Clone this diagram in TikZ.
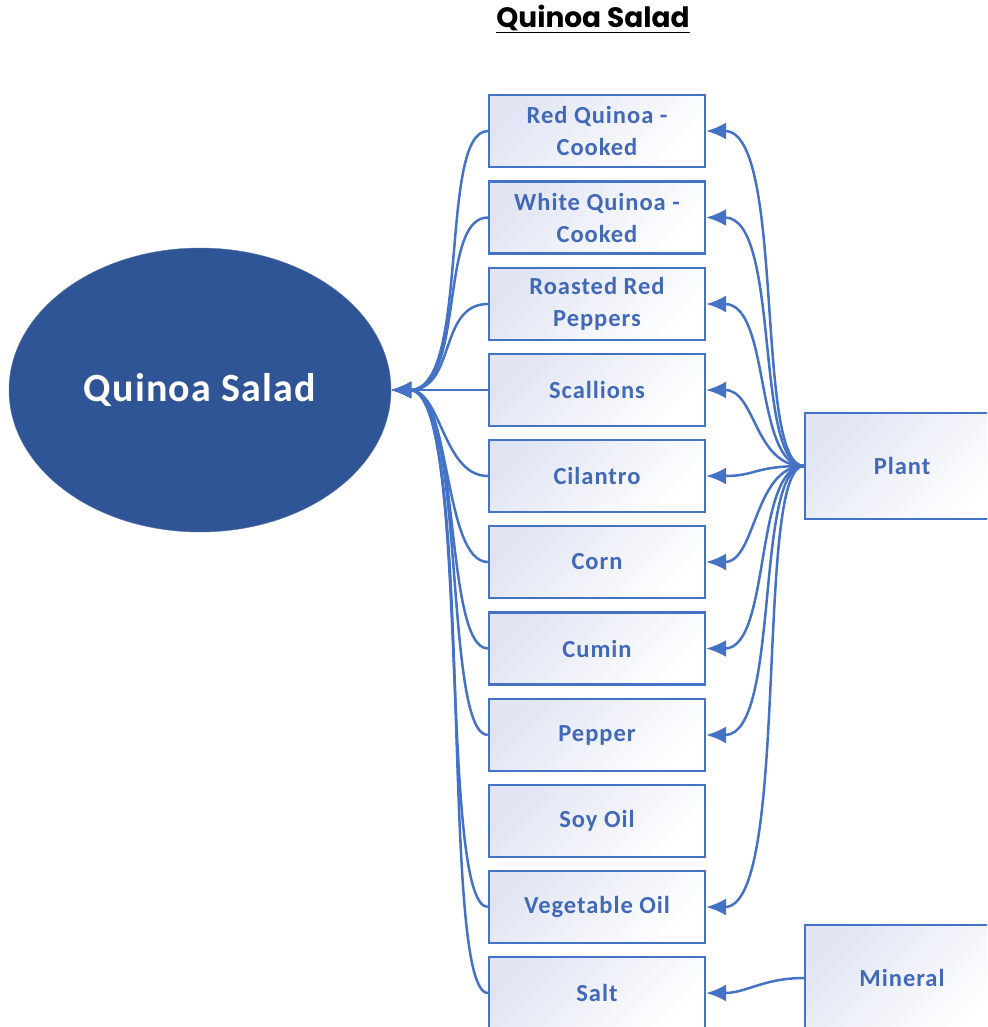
\documentclass[tikz,border=0pt]{standalone}
\usepackage{fontspec}
\setmainfont{Carlito}
\newfontfamily\titlefont{Poppins}
\usetikzlibrary{positioning,shapes.geometric,arrows.meta}
\definecolor{linkblue}{HTML}{4472C4}
\definecolor{textblue}{HTML}{4169B8}
\definecolor{darkblue}{HTML}{2F5597}
\definecolor{boxtint}{HTML}{E1E5F3}
\tikzset{
  item/.style={draw=linkblue,line width=2.2pt,top color=boxtint,bottom color=white,shading angle=45,
    minimum width=216,minimum height=72,inner sep=0pt,align=center,text=textblue,
    font=\fontsize{24.5}{32}\selectfont\bfseries\addfontfeatures{LetterSpace=4}},
  group/.style={item,minimum width=194,minimum height=106},
  feed/.style={draw=linkblue,line width=2.5pt,-{Latex[length=20pt,width=17pt]}},
}

\begin{document}
\begin{tikzpicture}[x=1pt,y=-1pt]
	\useasboundingbox (0,0) rectangle (987,1027);
	\clip (0,0) rectangle (987,1027);
	\node (title) at (593,19) {\titlefont\fontsize{28}{32}\selectfont\bfseries\underline{Quinoa Salad}};
	\node[ellipse,fill=darkblue,draw=darkblue!80!white,minimum width=382,minimum height=284,inner sep=0pt,
	  text=white,font=\fontsize{40}{44}\selectfont\bfseries\addfontfeatures{LetterSpace=3}] (Q) at (200,390) {Quinoa Salad};
	\node[item] (rq) at (597,131) {Red Quinoa -\\Cooked};
	\node[item] (wq) at (597,217.5) {White Quinoa -\\Cooked};
	\node[item] (rp) at (597,304) {Roasted Red\\Peppers};
	\node[item] (sc) at (597,390) {Scallions};
	\node[item] (ci) at (597,476) {Cilantro};
	\node[item] (co) at (597,562) {Corn};
	\node[item] (cu) at (597,648.5) {Cumin};
	\node[item] (pe) at (597,735) {Pepper};
	\node[item] (so) at (597,821) {Soy Oil};
	\node[item] (vo) at (597,907) {Vegetable Oil};
	\node[item] (sa) at (597,993) {Salt};
	\node[group] (pl) at (902,466) {Plant};
	\node[group] (mi) at (902,978) {Mineral};
	% ingredients into the salad
	\draw[feed] (rq.west) .. controls +(-50,0) and +(80,0) .. (Q.east);
	\draw[feed] (wq.west) .. controls +(-50,0) and +(75,0) .. (Q.east);
	\draw[feed] (rp.west) .. controls +(-50,0) and +(65,0) .. (Q.east);
	\draw[feed] (sc.west) -- (Q.east);
	\draw[feed] (ci.west) .. controls +(-45,0) and +(50,0) .. (Q.east);
	\draw[feed] (co.west) .. controls +(-45,0) and +(60,0) .. (Q.east);
	\draw[feed] (cu.west) .. controls +(-45,0) and +(70,0) .. (Q.east);
	\draw[feed] (pe.west) .. controls +(-45,0) and +(75,0) .. (Q.east);
	\draw[feed] (vo.west) .. controls +(-50,0) and +(80,0) .. (Q.east);
	\draw[feed] (sa.west) .. controls +(-50,0) and +(85,0) .. (Q.east);
	% sources
	\draw[feed] (pl.west) .. controls +(-50,0) and +(80,0) .. (rq.east);
	\draw[feed] (pl.west) .. controls +(-50,0) and +(75,0) .. (wq.east);
	\draw[feed] (pl.west) .. controls +(-50,0) and +(65,0) .. (rp.east);
	\draw[feed] (pl.west) .. controls +(-50,0) and +(50,0) .. (sc.east);
	\draw[feed] (pl.west) .. controls +(-50,0) and +(50,0) .. (ci.east);
	\draw[feed] (pl.west) .. controls +(-50,0) and +(50,0) .. (co.east);
	\draw[feed] (pl.west) .. controls +(-50,0) and +(65,0) .. (cu.east);
	\draw[feed] (pl.west) .. controls +(-50,0) and +(75,0) .. (pe.east);
	\draw[feed] (pl.west) .. controls +(-50,0) and +(85,0) .. (vo.east);
	\draw[feed] (mi.west) .. controls +(-40,0) and +(40,0) .. (sa.east);
\end{tikzpicture}
\end{document}
